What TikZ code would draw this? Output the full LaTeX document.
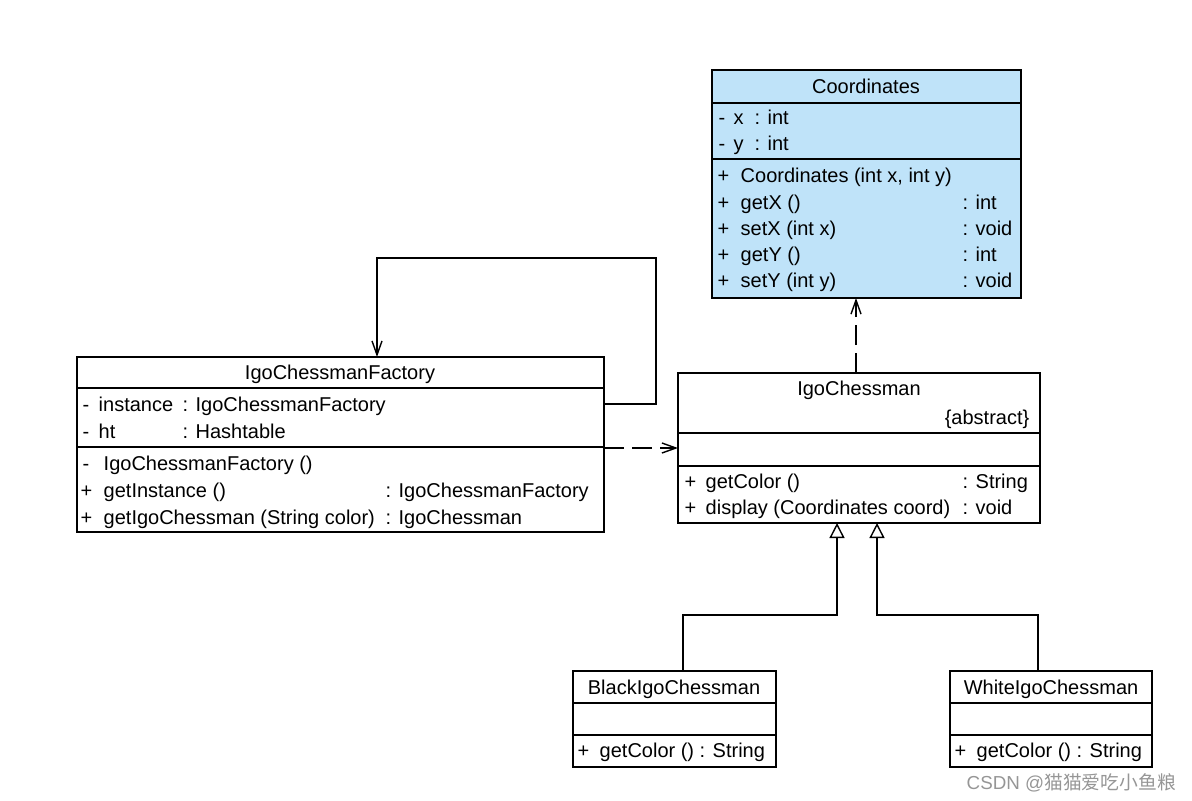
\documentclass[tikz,border=0pt]{standalone}
\usepackage{fontspec}
\setmainfont{Liberation Sans}
\newfontfamily\cjkfont{Noto Sans CJK SC}
\usetikzlibrary{arrows.meta}
\usetikzlibrary{fit}
\definecolor{coordblue}{RGB}{191,227,249}
\definecolor{markgray}{RGB}{150,150,150}

\begin{document}
\begin{tikzpicture}[x=0.5pt,y=-0.5pt,line width=0.7pt,
  classbox/.style={draw,inner sep=0pt,outer sep=0pt},
  row/.style={anchor=west,inner sep=0pt,text height=7.2pt,text depth=0pt,font=\fontsize{10}{12}\selectfont},
  title/.style={row,anchor=center},
  assoc/.style={-{Straight Barb[length=7pt,width=5pt]}},
  depend/.style={dash pattern=on 10pt off 4pt,-{Straight Barb[length=7pt,width=5pt]}},
  inherit/.style={-{Triangle[open,length=7.5pt,width=7.5pt]}}]
 \useasboundingbox (0,0) rectangle (1192,800);

 \node[classbox,fill=coordblue,fit={(712,70) (1021,298)}] (coord) {};
 \node[classbox,fit={(77,357) (604,532)}] (factory) {};
 \node[classbox,fit={(678,373) (1040,523)}] (chess) {};
 \node[classbox,fit={(573,671) (776,767)}] (black) {};
 \node[classbox,fit={(950,671) (1152,767)}] (white) {};

 \draw (coord.west |- 0,103) -- (coord.east |- 0,103);
 \draw (coord.west |- 0,159) -- (coord.east |- 0,159);
 \draw (factory.west |- 0,388) -- (factory.east |- 0,388);
 \draw (factory.west |- 0,447) -- (factory.east |- 0,447);
 \draw (chess.west |- 0,433) -- (chess.east |- 0,433);
 \draw (chess.west |- 0,466) -- (chess.east |- 0,466);
 \draw (black.west |- 0,703) -- (black.east |- 0,703);
 \draw (black.west |- 0,735) -- (black.east |- 0,735);
 \draw (white.west |- 0,703) -- (white.east |- 0,703);
 \draw (white.west |- 0,735) -- (white.east |- 0,735);

 \node[title] (coordname) at (866,86) {Coordinates};
 \node[row] at (718,117) {-};
 \node[row] at (733,117) {x};
 \node[row] at (754,117) {: int};
 \node[row] at (718,143) {-};
 \node[row] at (733,143) {y};
 \node[row] at (754,143) {: int};
 \node[row] at (717,175) {+};
 \node[row] at (740,175) {Coordinates (int x, int y)};
 \node[row] at (717,202) {+};
 \node[row] at (740,202) {getX ()};
 \node[row] at (962,202) {: int};
 \node[row] at (717,228) {+};
 \node[row] at (740,228) {setX (int x)};
 \node[row] at (962,228) {: void};
 \node[row] at (717,254) {+};
 \node[row] at (740,254) {getY ()};
 \node[row] at (962,254) {: int};
 \node[row] at (717,280) {+};
 \node[row] at (740,280) {setY (int y)};
 \node[row] at (962,280) {: void};

 \node[title] (factoryname) at (340,372) {IgoChessmanFactory};
 \node[row] at (82,404) {-};
 \node[row] at (98,404) {instance};
 \node[row] at (182,404) {: IgoChessmanFactory};
 \node[row] at (82,431) {-};
 \node[row] at (98,431) {ht};
 \node[row] at (182,431) {: Hashtable};
 \node[row] at (82,463) {-};
 \node[row] at (103,463) {IgoChessmanFactory ()};
 \node[row] at (80,490) {+};
 \node[row] at (103,490) {getInstance ()};
 \node[row] at (385,490) {: IgoChessmanFactory};
 \node[row] at (80,517) {+};
 \node[row] at (103,517) {getIgoChessman (String color)};
 \node[row] at (385,517) {: IgoChessman};

 \node[title] (chessname) at (859,388) {IgoChessman};
 \node[row,anchor=east] (abstract) at (1030,417) {\{abstract\}};
 \node[row] at (684,481) {+};
 \node[row] at (705,481) {getColor ()};
 \node[row] at (962,481) {: String};
 \node[row] at (684,507) {+};
 \node[row] at (705,507) {display (Coordinates coord)};
 \node[row] at (962,507) {: void};

 \node[title] (blackname) at (674,687) {BlackIgoChessman};
 \node[row] at (577,750) {+};
 \node[row] at (599,750) {getColor () : String};
 \node[title] (whitename) at (1051,687) {WhiteIgoChessman};
 \node[row] at (954,750) {+};
 \node[row] at (976,750) {getColor () : String};

 \coordinate (loopR) at (656,258);
 \coordinate (loopL) at (377,258);
 \draw[assoc] (factory.east |- 0,404) -| (loopR) -- (loopL) -- (factory.north -| loopL);
 \draw[depend] (factory.east |- 0,448) -- (chess.west |- 0,448);
 \draw[depend] (chess.north -| 856,0) -- (coord.south -| 856,0);

 \coordinate (bendB) at (683,615);
 \coordinate (bendW) at (1038,615);
 \draw[inherit] (black.north -| bendB) -- (bendB) -| (chess.south -| 837,0);
 \draw[inherit] (white.north -| bendW) -- (bendW) -| (chess.south -| 877,0);

 \node[row,text=markgray,font=\fontsize{9.4}{11}\selectfont] (mark) at (966,782) {CSDN @{\cjkfont 猫猫爱吃小鱼粮}};
\end{tikzpicture}
\end{document}
